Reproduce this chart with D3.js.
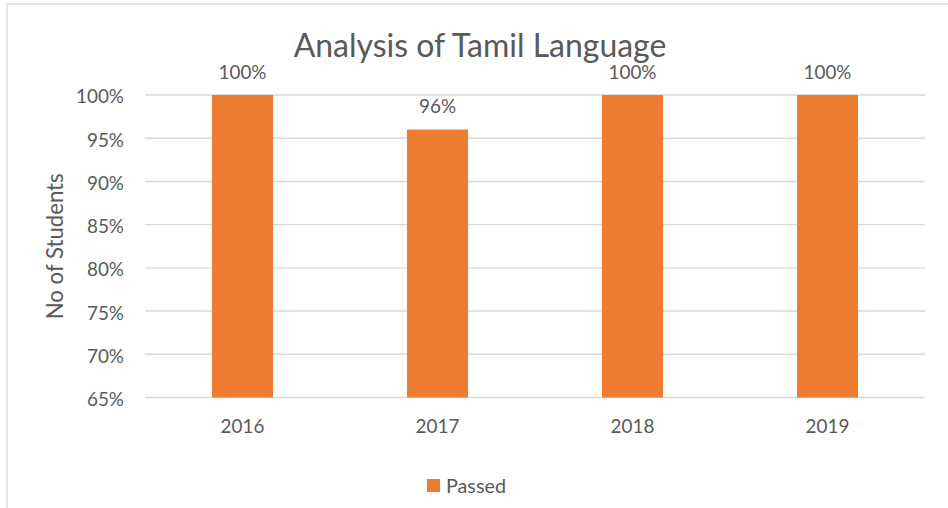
<!DOCTYPE html>
<html><head><meta charset="utf-8">
<script src="https://cdn.jsdelivr.net/npm/d3@7"></script>
<style>body{margin:0;background:#fff;}svg{display:block;} text{font-family:Lato,"Open Sans",sans-serif;}</style>
</head><body>
<svg id="c" width="948" height="508"></svg>
<script>
const categories = ["2016", "2017", "2018", "2019"];
const passed = [1.00, 0.96, 1.00, 1.00];
const yTicks = [0.65, 0.70, 0.75, 0.80, 0.85, 0.90, 0.95, 1.00];
const title = "Analysis of Tamil Language";
const yTitle = "No of Students";
const seriesName = "Passed";

const svg = d3.select("#c");
const textColor = "#595959";
const barColor = "#ED7D31";
const gridColor = "#D9D9D9";
const pct = d3.format(".0%");

// size a text selection so that its first node spans the given width
function fit(sel, width) {
  const node = sel.node();
  sel.style("font-size", "20px");
  const w = node.getComputedTextLength();
  const size = 20 * width / w;
  sel.style("font-size", size + "px");
  return size;
}

// chart border
svg.append("rect").attr("x", 7).attr("y", 4).attr("width", 960).attr("height", 520)
  .attr("fill", "none").attr("stroke", gridColor).attr("stroke-width", 1.3);

const x = d3.scaleBand().domain(categories).range([145, 925]).padding(0);
const y = d3.scaleLinear().domain([0.65, 1.00]).range([397.5, 95]);
const barW = x.bandwidth() * 0.313;

// gridlines
svg.append("g").selectAll("line").data(yTicks).join("line")
  .attr("x1", 145).attr("x2", 925)
  .attr("y1", d => y(d)).attr("y2", d => y(d))
  .attr("stroke", gridColor).attr("stroke-width", 1.4);

// measure a label size once
const probe = svg.append("text").text("100%");
const labelSize = fit(probe, 48);
probe.remove();

// y axis labels
const yAxis = d3.axisLeft(y).tickValues(yTicks).tickFormat(pct).tickSize(0).tickPadding(21);
const gy = svg.append("g").attr("transform", "translate(145,0)").call(yAxis);
gy.attr("font-family", null);
gy.select(".domain").remove();
gy.selectAll("text").attr("fill", textColor).style("font-size", labelSize + "px").attr("dy", "0.42em");

// x axis labels
const xAxis = d3.axisBottom(x).tickSize(0).tickPadding(0);
const gx = svg.append("g").attr("transform", "translate(0,397.5)").call(xAxis);
gx.attr("font-family", null);
gx.select(".domain").remove();
gx.selectAll("text").attr("fill", textColor).style("font-size", labelSize + "px").attr("y", 35.5).attr("dy", null);

// bars
svg.append("g").selectAll("rect").data(passed).join("rect")
  .attr("x", (d, i) => x(categories[i]) + x.bandwidth() / 2 - barW / 2)
  .attr("width", barW)
  .attr("y", d => y(d))
  .attr("height", d => y(0.65) - y(d))
  .attr("fill", barColor);

// bar labels
svg.append("g").selectAll("text").data(passed).join("text")
  .attr("x", (d, i) => x(categories[i]) + x.bandwidth() / 2)
  .attr("y", d => y(d) - 16.5)
  .attr("text-anchor", "middle")
  .attr("fill", textColor).style("font-size", labelSize + "px")
  .text(d => pct(d));

// title
const t = svg.append("text").attr("x", 480).attr("y", 56.5).attr("text-anchor", "middle")
  .attr("fill", textColor).text(title);
fit(t, 373);

// y title
const yt = svg.append("text").attr("transform", "translate(63,246.3) rotate(-90)").attr("text-anchor", "middle")
  .attr("fill", textColor).text(yTitle);
fit(yt, 146);

// legend
svg.append("rect").attr("x", 427).attr("y", 479).attr("width", 13).attr("height", 13).attr("fill", barColor);
const lt = svg.append("text").attr("x", 446).attr("y", 493).attr("fill", textColor).text(seriesName);
fit(lt, 60);
</script>
</body></html>
